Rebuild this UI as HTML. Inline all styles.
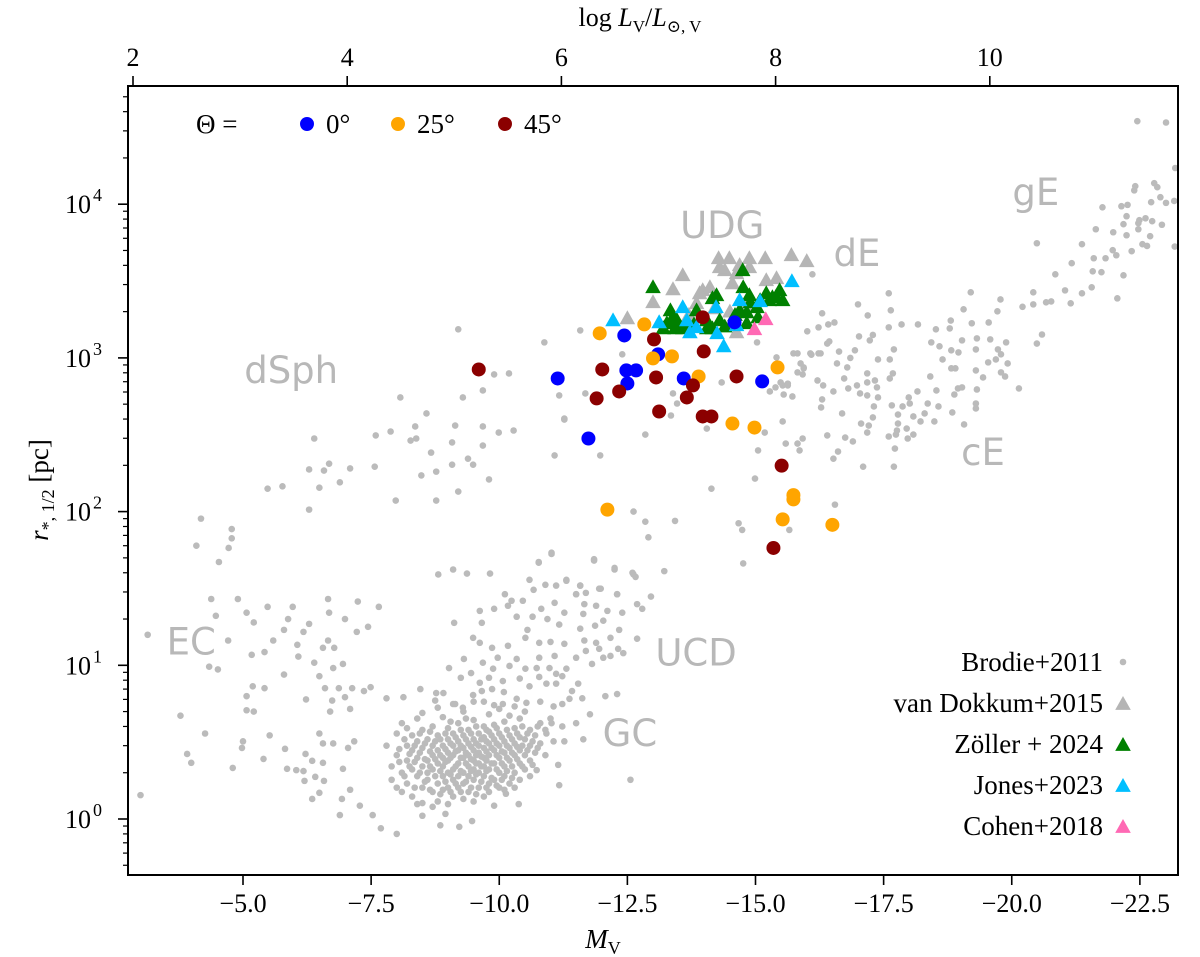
<!DOCTYPE html>
<html><head><meta charset="utf-8"><title>Size–luminance chart</title>
<style>
html,body{margin:0;padding:0;background:#fff;}
svg{display:block;}
text{font-family:"Liberation Serif","DejaVu Serif",serif;fill:#000;}
#axes text{font-family:"Liberation Serif",serif;}
.reg{font-family:"DejaVu Sans","Liberation Sans",sans-serif;fill:#b8b8b8;font-size:37px;}
</style></head>
<body>
<svg id="chart" width="1200" height="957" viewBox="0 0 1200 957" xmlns="http://www.w3.org/2000/svg">
<g id="marks"></g>
<g id="axes"></g>
</svg>
<script>
// ---- data (M_V, r_half [pc]) ----
const xTicks = [-5.0, -7.5, -10.0, -12.5, -15.0, -17.5, -20.0, -22.5];
const xTickLabels = ["\u22125.0","\u22127.5","\u221210.0","\u221212.5","\u221215.0","\u221217.5","\u221220.0","\u221222.5"];
const topTicks = [2, 4, 6, 8, 10];
const yTicksExp = [0, 1, 2, 3, 4];

const brodie = [
[-4.09,60],[-4.72,58],[-4.53,47],[-4.38,27],[-4.90,27],[-4.47,21],[-5.07,22],[-5.21,19],[-5.48,24],[-5.97,24],[-5.88,20],[-5.80,17],[-6.18,16.5],[-6.29,18.6],[-6.66,27],[-6.68,22],[-7.24,26],[-7.65,24],[-6.99,20],[-7.44,17.8],[-7.22,16.5],[-3.14,15.8],[-4.71,14.5],[-5.59,14.5],[-5.17,11.7],[-5.42,12.2],[-6.06,13.6],[-6.08,11.4],[-6.56,13],[-6.78,13],[-6.66,14.5],[-4.34,9.8],[-4.51,9.4],[-5.80,8.7],[-6.39,10.4],[-6.76,9.6],[-6.95,10.2],[-6.49,8.5],[-5.19,7.3],[-5.42,7.1],[-5.07,6.3],[-5.07,5.1],[-5.21,5.0],[-3.78,4.7],[-4.26,3.6],[-5.0,3.2],[-4.98,2.9],[-5.52,3.5],[-5.82,2.86],[-3.91,2.65],[-3.99,2.32],[-4.80,2.15],[-5.40,2.46],[-5.86,2.12],[-3.0,1.43],[-6.23,6.0],[-6.60,7.1],[-6.87,7.1],[-6.74,5.9],[-6.70,5.0],[-7.13,7.1],[-7.36,6.8],[-7.49,7.2],[-6.99,6.2],[-7.09,5.2],[-6.49,3.6],[-6.56,3.1],[-6.76,3.1],[-7.05,2.9],[-7.17,3.2],[-6.22,2.65],[-6.35,2.39],[-6.56,2.32],[-6.18,2.05],[-6.04,2.08],[-6.41,1.88],[-6.58,1.77],[-6.20,1.77],[-6.49,1.48],[-6.35,1.35],[-6.93,1.35],[-7.09,1.55],[-6.95,2.12],[-7.28,1.22],[-6.89,1.06],[-7.53,1.06],[-7.69,0.87],[-8.0,0.80],[-8.50,1.05],[-8.85,0.91],[-9.22,0.89],[-9.47,0.97],[-8.95,1.08],[-8.50,1.27],[-9.90,1.22],[-10.38,1.25],[-10.13,1.46],[-11.17,1.66],[-12.56,1.80],[-11.15,2.25],[-10.73,2.08],
[-8.81,39],[-9.10,42],[-9.37,39.5],[-9.82,39.5],[-11.02,53],[-10.77,46.5],[-11.85,48],[-12.25,42],[-12.62,39],[-10.59,36],[-10.90,33.4],[-11.11,33],[-11.31,35.5],[-11.58,33],[-11.98,31.5],[-12.30,29],[-10.11,29],[-10.24,26.3],[-10.46,26.3],[-10.67,31],[-11.50,29],[-11.66,25],[-11.89,24.4],[-12.11,22.6],[-12.40,22],[-12.69,25],[-12.79,23.3],[-9.62,22.6],[-9.90,23.3],[-10.17,24.4],[-10.34,20.7],[-10.65,20.7],[-10.94,20],[-11.27,22],[-11.64,21.6],[-12.03,19.5],[-9.66,18.9],[-9.12,18.9],[-9.49,15.1],[-9.62,14],[-9.86,13],[-10.17,13.4],[-10.55,17],[-10.51,15.1],[-10.82,23.3],[-11.08,25.5],[-11.17,18.4],[-11.58,17.3],[-11.87,18.1],[-12.34,17],[-12.69,14.9],[-10.78,14],[-11.0,14.2],[-11.27,13.8],[-11.66,14.5],[-11.89,14],[-12.17,15.1],[-12.32,12.8],[-12.42,12],[-11.95,12.8],[-11.69,12.4],[-11.50,11.2],[-10.78,11.2],[-11.08,11.5],[-10.34,11],[-9.97,11.2],[-9.31,11],[-9.68,10.4],[-9.88,9.5],[-10.20,9.9],[-10.51,9.5],[-10.73,9.6],[-10.98,9.6],[-11.11,8.8],[-11.31,9.5],[-11.81,10.2],[-12.03,11.2],[-12.17,11.5],[-9.02,9.6],[-9.25,8.3],[-9.45,8.9],[-9.62,7.7],[-9.80,8.3],[-10.07,7.9],[-10.40,8.2],[-10.59,7.3],[-10.78,8.4],[-10.92,7.6],[-11.11,7.6],[-11.23,8.5],[-11.54,7.6],[-11.42,6.8],[-11.62,6.1],[-11.37,6.05],[-12.07,6.3],[-12.30,6.5],[-11.23,5.6],[-11.06,5.4],[-10.80,5.8],[-10.53,5.7],[-10.34,6.05],[-10.09,6.7],[-9.86,7.0],[-9.66,6.8],[-9.49,6.4],[-8.77,6.6],[-8.91,6.6],[-8.46,7.0],[-8.13,6.2],[-7.80,6.1],[-8.75,5.9],[-9.14,5.6],[-9.29,5.3],[-9.70,5.8],[-10.07,5.6],[-11.77,4.8],[-11.50,4.2],[-11.64,3.3],[-11.27,3.2],[-11.06,3.2],[-10.92,3.6],[-11.23,4.0],[-11.02,4.2],
[-7.8,3.0],[-7.9,2.2],[-7.9,1.8],[-8.0,2.6],[-8.0,3.6],[-8.1,1.5],[-8.1,2.0],[-8.1,4.2],[-8.2,2.4],[-8.2,3.0],[-8.2,1.7],[-8.3,2.1],[-8.3,2.8],[-8.3,3.5],[-8.3,1.4],[-8.4,1.9],[-8.4,2.5],[-8.4,3.2],[-8.4,4.5],[-8.5,1.6],[-8.5,2.2],[-8.5,2.9],[-8.5,3.8],[-8.6,1.8],[-8.6,2.4],[-8.6,2.0],[-8.6,3.3],[-8.7,1.5],[-8.7,2.1],[-8.7,2.6],[-8.7,3.0],[-8.7,4.0],[-8.8,1.7],[-8.8,2.3],[-8.8,2.8],[-8.8,3.5],[-8.8,1.3],[-8.9,1.9],[-8.9,2.2],[-8.9,2.5],[-8.9,3.0],[-8.9,4.6],[-9.0,1.6],[-9.0,2.0],[-9.0,2.4],[-9.0,2.7],[-9.0,3.3],[-9.0,3.9],[-9.1,1.8],[-9.1,2.1],[-9.1,2.6],[-9.1,3.0],[-9.1,3.6],[-9.1,1.4],[-9.2,1.6],[-9.2,1.9],[-9.2,2.3],[-9.2,2.8],[-9.2,3.2],[-9.2,4.2],[-9.3,1.7],[-9.3,2.0],[-9.3,2.5],[-9.3,2.9],[-9.3,3.5],[-9.3,5.0],[-9.4,1.5],[-9.4,1.9],[-9.4,2.2],[-9.4,2.6],[-9.4,3.1],[-9.4,3.8],[-9.5,1.8],[-9.5,2.1],[-9.5,2.4],[-9.5,2.8],[-9.5,3.3],[-9.5,4.4],[-9.6,1.6],[-9.6,2.0],[-9.6,2.3],[-9.6,2.7],[-9.6,3.0],[-9.6,3.6],[-9.7,1.9],[-9.7,2.2],[-9.7,2.5],[-9.7,2.9],[-9.7,3.4],[-9.7,4.0],[-9.7,1.4],[-9.8,1.7],[-9.8,2.1],[-9.8,2.6],[-9.8,3.1],[-9.8,3.7],[-9.8,4.8],[-9.9,1.8],[-9.9,2.3],[-9.9,2.8],[-9.9,3.3],[-9.9,4.1],[-10.0,1.6],[-10.0,2.0],[-10.0,2.5],[-10.0,3.0],[-10.0,3.6],[-10.0,5.2],[-10.1,1.9],[-10.1,2.2],[-10.1,2.7],[-10.1,3.2],[-10.1,4.3],[-10.2,1.7],[-10.2,2.4],[-10.2,2.9],[-10.2,3.5],[-10.2,4.7],[-10.3,2.0],[-10.3,2.6],[-10.3,3.1],[-10.3,3.9],[-10.4,1.8],[-10.4,2.3],[-10.4,2.8],[-10.4,3.4],[-10.4,4.5],[-10.5,2.1],[-10.5,2.6],[-10.5,3.3],[-10.5,5.0],[-10.6,2.4],[-10.6,3.0],[-10.6,3.8],[-10.7,2.7],[-10.7,3.5],[-10.8,3.1],[-10.8,4.2],[-10.9,3.8],[-10.9,2.6],[-11.0,4.5],[-8.0,1.6],[-8.2,3.9],[-8.5,4.9],[-8.8,5.3],[-9.1,5.6],[-9.5,5.8],[-9.9,5.5],[-10.3,5.4],[-8.9,1.55],[-9.3,1.35],[-9.8,1.5],[-10.1,1.55],[-10.3,1.6],[-10.6,1.9],[-8.4,1.25],[-8.7,1.2],[-9.0,1.25],[-9.5,1.3],
[-8.05,2.35],[-8.05,2.85],[-8.15,1.9],[-8.15,3.3],[-8.25,2.2],[-8.25,2.65],[-8.35,1.6],[-8.35,2.35],[-8.35,3.0],[-8.45,2.0],[-8.45,2.7],[-8.45,3.6],[-8.55,1.75],[-8.55,2.45],[-8.55,3.1],[-8.65,1.55],[-8.65,2.2],[-8.65,2.75],[-8.65,3.7],[-8.75,1.9],[-8.75,2.45],[-8.75,3.2],[-8.85,1.45],[-8.85,2.05],[-8.85,2.6],[-8.85,3.3],[-8.95,1.75],[-8.95,2.35],[-8.95,2.85],[-8.95,3.6],[-9.05,1.5],[-9.05,1.95],[-9.05,2.5],[-9.05,3.1],[-9.05,4.3],[-9.15,1.7],[-9.15,2.2],[-9.15,2.75],[-9.15,3.4],[-9.25,1.5],[-9.25,2.05],[-9.25,2.5],[-9.25,3.0],[-9.25,3.8],[-9.35,1.75],[-9.35,2.3],[-9.35,2.7],[-9.35,3.3],[-9.35,4.5],[-9.45,1.6],[-9.45,2.05],[-9.45,2.45],[-9.45,2.95],[-9.45,3.6],[-9.55,1.45],[-9.55,1.95],[-9.55,2.3],[-9.55,2.6],[-9.55,3.1],[-9.55,4.0],[-9.65,1.75],[-9.65,2.2],[-9.65,2.55],[-9.65,3.3],[-9.75,1.6],[-9.75,2.05],[-9.75,2.4],[-9.75,2.75],[-9.75,3.2],[-9.75,3.8],[-9.85,1.85],[-9.85,2.3],[-9.85,2.9],[-9.85,3.5],[-9.95,1.65],[-9.95,2.1],[-9.95,2.6],[-9.95,3.1],[-9.95,3.9],[-10.05,1.8],[-10.05,2.3],[-10.05,2.75],[-10.05,3.4],[-10.15,2.05],[-10.15,2.5],[-10.15,3.0],[-10.15,3.8],[-10.25,1.85],[-10.25,2.2],[-10.25,2.7],[-10.25,3.3],[-10.35,2.45],[-10.35,2.95],[-10.35,3.6],[-10.45,2.2],[-10.45,3.0],[-10.45,4.0],[-10.55,2.8],[-10.55,3.6],[-10.65,2.25],[-10.65,3.2],[-10.75,2.9],[-10.75,4.0],
[-16.11,3500],[-16.30,1950],[-16.01,1490],[-16.23,1580],[-16.42,1650],[-16.54,1700],[-17.0,2230],[-17.19,1890],[-17.60,2630],[-17.64,2040],[-17.60,1580],[-17.85,1650],[-18.17,1650],[-18.52,1535],[-18.81,1750],[-18.79,1556],[-19.06,2070],[-19.20,2670],[-19.22,1680],[-19.55,1700],[-19.72,2010],[-19.78,2400],[-20.21,2150],[-20.42,2230],[-20.42,2670],[-20.67,2300],[-20.77,2330],[-20.85,3500],[-21.04,2750],[-21.15,2265],[-21.17,4130],[-21.37,2630],[-21.37,5490],[-21.56,2880],[-21.58,3660],[-21.60,4450],[-21.64,6870],[-21.75,3610],[-21.77,9550],[-21.83,4450],[-21.97,5020],[-22.04,4655],[-22.06,2440],[-21.98,6570],[-22.18,3445],[-22.14,9700],[-22.26,9900],[-22.18,7410],[-22.24,8350],[-22.24,6280],[-22.34,4950],[-22.41,13100],[-22.39,12300],[-22.47,7520],[-22.49,7870],[-22.61,8100],[-22.47,6870],[-22.55,5490],[-22.64,5350],[-22.70,6190],[-22.74,7750],[-22.78,13700],[-22.84,12900],[-22.72,10300],[-22.90,11100],[-22.93,7350],[-23.01,10200],[-22.45,34700],[-23.01,34000],[-20.49,5570],[-20.49,1240],[-20.59,1420],[-23.19,17200],[-23.18,5300],[-23.17,10500],
[-15.82,1070],[-16.09,1050],[-16.23,1070],[-16.40,1240],[-16.44,1280],[-16.63,1100],[-16.59,920],[-16.79,867],[-16.85,1000],[-16.94,1120],[-17.02,1380],[-17.23,1300],[-17.29,1410],[-17.39,977],[-17.62,977],[-17.70,1136],[-17.68,793],[-17.62,735],[-17.18,793],[-17.33,713],[-17.37,643],[-17.18,692],[-16.98,662],[-16.81,633],[-17.04,587],[-17.18,570],[-17.39,553],[-16.73,735],[-16.52,605],[-16.32,662],[-16.21,713],[-15.92,781],[-15.94,867],[-15.88,920],[-15.53,662],[-15.63,662],[-15.72,561],[-15.55,578],[-16.30,537],[-16.28,476],[-16.69,435],[-17.31,483],[-17.29,410],[-17.06,374],[-17.21,363],[-17.18,327],[-16.40,313],[-16.75,303],[-16.90,286],[-16.61,246],[-16.52,221],[-15.92,299],[-15.82,277],[-15.86,250],[-15.59,277],[-15.53,386],[-17.66,491],[-17.87,483],[-18.01,505],[-17.99,553],[-18.16,605],[-17.78,428],[-17.78,374],[-17.76,337],[-17.74,317],[-17.60,308],[-17.95,347],[-18.08,416],[-18.08,317],[-17.97,299],[-18.22,386],[-18.30,435],[-18.36,505],[-18.57,483],[-18.49,386],[-18.53,614],[-18.84,442],[-18.88,578],[-18.95,633],[-19.03,643],[-19.07,369],[-19.30,505],[-19.30,469],[-19.32,623],[-19.44,746],[-19.30,829],[-18.82,855],[-18.90,855],[-18.41,757],[-18.65,977],[-18.82,1120],[-18.96,1086],[-19.30,1136],[-19.54,935],[-19.69,977],[-19.79,1055],[-19.73,1136],[-19.92,920],[-19.79,805],[-19.87,757],[-20.14,633],[-19.89,1262],[-19.58,1320],[-19.32,1340],[-19.03,1300],[-18.59,1189],[-18.43,1262],[-17.72,257],[-17.70,196],[-17.10,196],
[-9.20,1535],[-10.88,1262],[-11.58,1510],[-12.40,1055],[-9.90,781],[-10.19,792],[-9.68,614],[-9.29,553],[-8.07,553],[-8.58,435],[-11.17,570],[-11.27,397],[-9.14,363],[-9.68,358],[-9.99,327],[-10.28,337],[-8.36,358],[-7.88,332],[-7.59,313],[-8.27,290],[-8.38,299],[-9.08,282],[-9.68,269],[-8.67,242],[-11.08,232],[-6.39,299],[-9.39,221],[-9.49,202],[-9.08,202],[-8.77,182],[-8.48,172],[-7.57,196],[-7.09,191],[-6.68,205],[-6.58,185],[-6.29,188],[-6.89,155],[-6.49,143],[-5.77,146],[-5.48,141],[-9.80,162],[-9.20,135],[-8.77,118],[-7.98,118],[-6.29,103],[-4.18,90],[-4.78,77],[-4.78,67],[-11.02,54],[-10.77,47],[-11.97,232],[-11.27,403],[-13.47,505],[-13.35,422],[-12.85,317],[-14.05,347],[-15.18,327],[-15.05,250],[-14.99,164],[-14.14,141],[-12.62,100],[-12.85,86],[-13.43,87],[-12.91,68],[-14.67,84],[-14.74,76],[-15.66,76],[-14.76,46],[-16.55,111],[-14.34,692],[-11.68,587],[-13.39,587],[-15.03,1262],[-15.41,1007],[-15.28,605],[-15.39,643],[-15.49,692],[-15.63,680],[-15.82,805],[-15.94,855],[-15.74,1070],[-16.07,1070],[-16.27,1070],[-11.85,49],[-12.25,43],[-12.60,40],[-12.66,37.6],[-13.22,41],[-11.31,36],[-11.58,33],[-11.69,29.6],[-11.95,31.5],[-11.50,29],[-12.30,29],[-12.96,28]
];
const vanDokkum = [[-14.28,4446],[-14.49,4446],[-14.88,4446],[-15.19,4446],[-15.70,4655],[-16.0,4256],[-14.40,3715],[-14.30,3890],[-13.58,3445],[-13.39,2793],[-13.0,2301],[-12.50,1808],[-13.97,2754],[-14.11,2879],[-14.55,3055],[-15.21,3199],[-15.41,3296],[-14.69,4008],[-14.88,3890],[-13.91,2630],[-13.85,2265],[-14.63,3551],[-14.63,1466],[-14.2,2100],[-14.5,2000],[-13.7,1900],[-14.8,2200]];
const zoller = [[-13.0,2879],[-14.75,3715],[-14.76,2879],[-14.88,2553],[-14.16,2443],[-14.24,2553],[-13.34,2037],[-13.39,1836],[-13.47,1754],[-13.27,1679],[-13.20,1556],[-13.66,1581],[-13.85,2037],[-14.05,1754],[-14.30,1754],[-14.16,1556],[-14.69,2037],[-14.83,1977],[-15.03,2133],[-15.09,2371],[-15.21,2630],[-15.33,2477],[-15.47,2754],[-15.53,2371],[-15.27,2371],[-15.05,1836],[-14.83,1679],[-13.58,1556],[-13.43,1556],[-14.05,1556],[-13.8,1650],[-14.4,1600],[-14.6,1900],[-13.5,1620],[-14.9,2300],[-15.4,2500]];
const jones = [[-12.22,1754],[-13.12,1703],[-13.58,2133],[-13.66,1754],[-13.85,1581],[-13.72,1466],[-14.23,2133],[-14.25,1445],[-14.38,1189],[-14.69,2371],[-15.09,2334],[-15.71,3150],[-14.63,1629]];
const cohen = [[-15.20,1782],[-14.98,1535]];
const theta0 = [[-11.14,735],[-12.44,1400],[-13.10,1055],[-12.48,829],[-12.67,829],[-12.50,682],[-13.60,735],[-14.59,1703],[-15.13,703],[-11.74,299]];
const theta25 = [[-11.96,1445],[-12.83,1652],[-13.0,993],[-13.37,1023],[-13.89,757],[-15.43,867],[-14.55,374],[-14.98,352],[-15.74,120],[-15.74,128],[-15.53,89],[-16.50,82],[-12.11,103]];
const theta45 = [[-13.97,1836],[-13.02,1320],[-13.99,1102],[-12.01,841],[-13.06,746],[-14.63,757],[-11.90,545],[-12.34,605],[-13.66,553],[-13.78,662],[-13.12,448],[-13.97,416],[-14.14,416],[-15.51,199],[-9.60,841],[-15.35,58]];
const regionLabels = ["UDG","dE","gE","dSph","cE","EC","UCD","GC"];
const regionMV = [-14.35,-16.98,-20.47,-5.94,-19.44,-3.99,-13.84,-12.55];
const regionR = [6030,3960,9890,687,201,11.8,10.0,2.98];
const legendLabels = ["Brodie+2011","van Dokkum+2015","Z\u00f6ller + 2024","Jones+2023","Cohen+2018"];
const legendColors = ["#bbbbbb","#b5b5b5","#008000","#00bfff","#ff69b4"];
const thetaLabels = ["0\u00b0","25\u00b0","45\u00b0"];
const thetaColors = ["#0000ff","#ffa500","#8b0000"];

// ---- axis geometry ----
const L=128, R=1178, T=86, B=875;
function xS(m){ return 243 + (-5 - m) * 51.25; }
function yS(r){ return 819 - Math.log10(r) * 153.7; }
function xTop(l){ return 133 + (l - 2) * 107.1; }

const NS="http://www.w3.org/2000/svg";
const marks=document.getElementById('marks');
const axes=document.getElementById('axes');
function mk(tag, attrs, parent){
  const e=document.createElementNS(NS,tag);
  for(const k in attrs) e.setAttribute(k, attrs[k]);
  parent.appendChild(e); return e;
}
function tri(cx,cy,s){ return `M${cx},${cy-s*0.62} L${cx+s*0.6},${cy+s*0.45} L${cx-s*0.6},${cy+s*0.45} Z`; }

const defs=mk('defs',{},marks);
const cp=mk('clipPath',{id:'plotclip'},defs);
mk('rect',{x:L,y:T,width:R-L,height:B-T},cp);
const plot=mk('g',{'clip-path':'url(#plotclip)'},marks);

// Brodie
const gB=mk('g',{},plot);


brodie.forEach(p=>{
  const c=mk('circle',{cx:xS(p[0]),cy:yS(p[1]),r:3.3,fill:'#bbbbbb'},gB);
  
  
});
// region labels
const gL=mk('g',{},plot);


regionLabels.forEach((t,i)=>{
  const e=mk('text',{x:xS(regionMV[i]),y:yS(regionR[i]),class:'reg','text-anchor':'middle'},gL);
  e.textContent=t;
  
  
});
function triSeries(arr,color,name,size){
  const g=mk('g',{},plot);
  
  
  arr.forEach(p=>{
    const e=mk('path',{d:tri(xS(p[0]),yS(p[1]),size),fill:color},g);
    
    
  });
}
triSeries(vanDokkum,'#b5b5b5','van-dokkum-2015',13);
triSeries(zoller,'#008000','zoller-2024',13);
triSeries(jones,'#00bfff','jones-2023',13);
triSeries(cohen,'#ff69b4','cohen-2018',13);
function circSeries(arr,color,name){
  const g=mk('g',{},plot);
  
  
  arr.forEach(p=>{
    const e=mk('circle',{cx:xS(p[0]),cy:yS(p[1]),r:7,fill:color},g);
    
    
  });
}
circSeries(theta0,'#0000ff','theta-0');
circSeries(theta25,'#ffa500','theta-25');
circSeries(theta45,'#8b0000','theta-45');

const frame=mk('rect',{x:L,y:T,width:R-L,height:B-T,fill:'none',stroke:'#000','stroke-width':2},axes);



xTicks.forEach((v,i)=>{
  const x=xS(v);
  const t=mk('line',{x1:x,x2:x,y1:B,y2:B+10,stroke:'#000','stroke-width':1.6},axes);
  
  
  const lb=mk('text',{x:x,y:B+37,'text-anchor':'middle','font-size':26,'font-family':'Liberation Serif, serif'},axes);
  lb.textContent=xTickLabels[i];
  
  
});
topTicks.forEach(v=>{
  const x=xTop(v);
  const t=mk('line',{x1:x,x2:x,y1:T,y2:T-10,stroke:'#000','stroke-width':1.6},axes);
  
  
  const lb=mk('text',{x:x,y:T-20,'text-anchor':'middle','font-size':26,'font-family':'Liberation Serif, serif'},axes);
  lb.textContent=String(v);
  
  
});
yTicksExp.forEach(k=>{
  const y=yS(Math.pow(10,k));
  const t=mk('line',{x1:L,x2:L-10,y1:y,y2:y,stroke:'#000','stroke-width':1.6},axes);
  
  
  const lb=mk('text',{x:L-37,y:y+9,'text-anchor':'end','font-size':26,'font-family':'Liberation Serif, serif'},axes);
  lb.textContent='10';
  
  
  const sp=mk('text',{x:L-35,y:y-3,'text-anchor':'start','font-size':18,'font-family':'Liberation Serif, serif'},axes);
  sp.textContent=String(k);
  
  
});
for(let k=-1;k<=4;k++){
  for(let m=2;m<=9;m++){
    const y=yS(m*Math.pow(10,k));
    if(y<T||y>B) continue;
    const t=mk('line',{x1:L,x2:L-5,y1:y,y2:y,stroke:'#000','stroke-width':1.2},axes);
    
    
  }
}

const gT=mk('g',{},axes);


const th=mk('text',{x:196,y:133,'font-size':27},gT);
th.textContent='\u0398 =';


const tx=[307,398,505];
thetaLabels.forEach((t,i)=>{
  const c=mk('circle',{cx:tx[i],cy:124,r:7,fill:thetaColors[i]},gT);
  
  
  const e=mk('text',{x:tx[i]+19,y:133,'font-size':27},gT);
  e.textContent=t;
  
  
});
const gD=mk('g',{},axes);


legendLabels.forEach((t,i)=>{
  const y=662+i*41;
  const e=mk('text',{x:1103,y:y+9,'text-anchor':'end','font-size':27},gD);
  e.textContent=t;
  
  
  let m;
  if(i===0) m=mk('circle',{cx:1123,cy:y,r:3.3,fill:legendColors[i]},gD);
  else m=mk('path',{d:tri(1123,y+1,13),fill:legendColors[i]},gD);
  
  
});
</script>
<div style="position:absolute;left:0;top:0;width:1200px;height:957px;pointer-events:none">
<svg width="1200" height="957" xmlns="http://www.w3.org/2000/svg" style="position:absolute;left:0;top:0">
<text x="603" y="948" text-anchor="middle" font-size="27" font-family="Liberation Serif, serif"><tspan font-style="italic">M</tspan><tspan font-size="18" dy="6">V</tspan></text>
<text x="640" y="26" text-anchor="middle" font-size="26" font-family="Liberation Serif, serif">log <tspan font-style="italic">L</tspan><tspan font-size="17" dy="6">V</tspan><tspan dy="-6">/</tspan><tspan font-style="italic">L</tspan><tspan font-size="17" dy="6">⊙, V</tspan></text>
<text transform="translate(48,490) rotate(-90)" text-anchor="middle" font-size="27" font-family="Liberation Serif, serif"><tspan font-style="italic">r</tspan><tspan font-size="18" dy="6">*, 1/2</tspan><tspan dy="-6"> [pc]</tspan></text>
</svg>
</div>
</body></html>
